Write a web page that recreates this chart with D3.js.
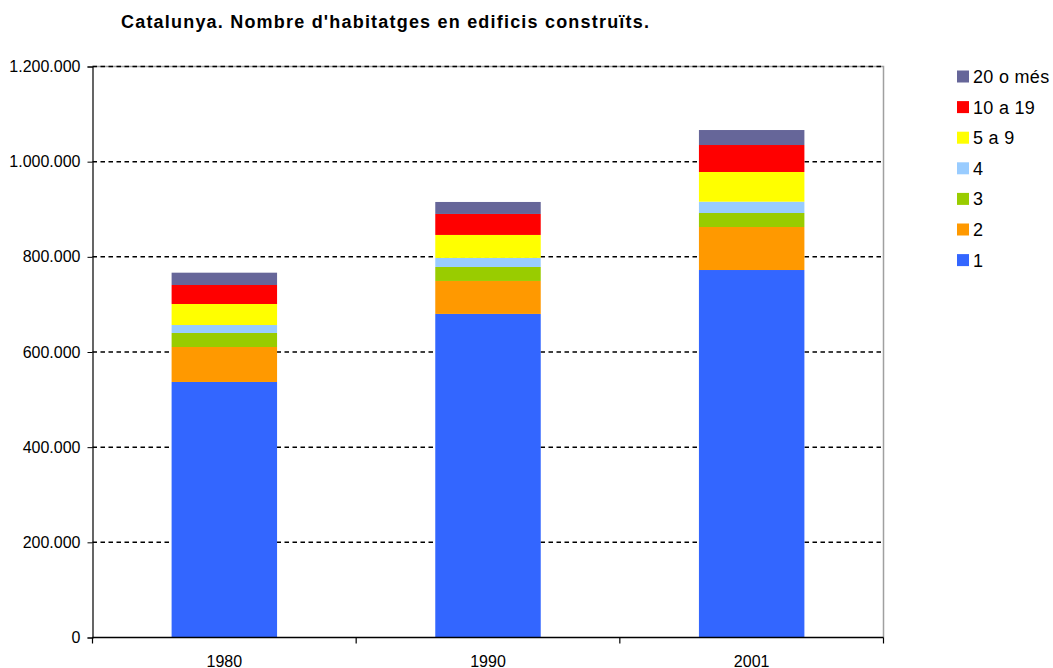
<!DOCTYPE html>
<html><head><meta charset="utf-8">
<script src="https://cdn.jsdelivr.net/npm/d3@7"></script>
<style>body{margin:0;background:#fff;} svg{display:block;font-family:"Liberation Sans",Arial,sans-serif;}</style>
</head><body><svg id="c" width="1053" height="668"></svg>
<script>
const years = ["1980","1990","2001"];
const seriesNames = ["1","2","3","4","5 a 9","10 a 19","20 o més"];
const s1 = [537000, 680000, 772300];
const s2 = [73500, 69300, 90400];
const s3 = [29500, 29400, 29400];
const s4 = [16700, 19000, 23800];
const s5a9 = [44200, 48300, 62400];
const s10a19 = [39900, 44100, 56700];
const s20mes = [25900, 25200, 31500];
const colors = ["#3366FF","#FF9900","#99CC00","#99CCFF","#FFFF00","#FF0000","#666699"];
const yTicks = [0,200000,400000,600000,800000,1000000,1200000];

const seriesVals = [s1,s2,s3,s4,s5a9,s10a19,s20mes];
const rows = years.map((y,i)=>{const r={year:y}; seriesNames.forEach((n,k)=>r[n]=seriesVals[k][i]); return r;});
const stack = d3.stack().keys(seriesNames)(rows);

const svg = d3.select("#c");
const L=92.5, R=883.5, T=66.5, B=637.5;
const x = d3.scaleBand().domain(years).range([L,R]);
const y = d3.scaleLinear().domain([0,1200000]).range([B,T]);
const fmt = v => d3.format(",")(v).replace(/,/g,".");

// plot border (gray top/right)
svg.append("path").attr("d",`M${L},${T}H${R}V${B}`).attr("fill","none").attr("stroke","#a0a0a0").attr("stroke-width",1.5);

// gridlines
svg.append("g").selectAll("line").data(yTicks.filter(d=>d>0)).join("line")
  .attr("x1",L).attr("x2",R).attr("y1",d=>y(d)).attr("y2",d=>y(d))
  .attr("stroke","#000").attr("stroke-width",1.5).attr("stroke-dasharray","4.5 3.5");

// bars
const bw = x.bandwidth()*0.4;
svg.append("g").selectAll("g").data(stack).join("g").attr("fill",(d,i)=>colors[i])
  .selectAll("rect").data(d=>d).join("rect")
  .attr("x",d=>x(d.data.year)+(x.bandwidth()-bw)/2).attr("width",bw)
  .attr("y",d=>y(d[1])).attr("height",d=>y(d[0])-y(d[1]));

// y axis
const ya = svg.append("g").attr("transform",`translate(${L},0)`)
  .call(d3.axisLeft(y).tickValues(yTicks).tickFormat(fmt).tickSize(5).tickPadding(7));
ya.select(".domain").attr("stroke","#000").attr("stroke-width",1.2);
ya.selectAll("text").attr("font-size","16px").attr("fill","#000").attr("font-family","Liberation Sans, Arial, sans-serif");

// x axis
const xa = svg.append("g").attr("transform",`translate(0,${B})`);
xa.append("line").attr("x1",L).attr("x2",R).attr("y1",0).attr("y2",0).attr("stroke","#000").attr("stroke-width",1.5);
const bounds = years.map(d=>x(d)).concat([R]);
xa.selectAll("line.t").data(bounds).join("line").attr("class","t")
  .attr("x1",d=>d).attr("x2",d=>d).attr("y1",0).attr("y2",6).attr("stroke","#000").attr("stroke-width",1.2);
xa.selectAll("text").data(years).join("text")
  .attr("x",d=>x(d)+x.bandwidth()/2).attr("y",29).attr("text-anchor","middle")
  .attr("font-size","16px").text(d=>d);

// title
svg.append("text").attr("x",121).attr("y",28).attr("font-size","18px").attr("font-weight","bold")
  .attr("letter-spacing","1.2px").text("Catalunya. Nombre d'habitatges en edificis construïts.");

// legend
const leg = svg.append("g");
const legOrder = seriesNames.map((n,i)=>({n,c:colors[i]})).reverse();
legOrder.forEach((d,i)=>{
  const cy = 76.5 + i*30.6;
  leg.append("rect").attr("x",957).attr("y",cy-6).attr("width",12).attr("height",12).attr("fill",d.c);
  leg.append("text").attr("x",973).attr("y",cy+6.5).attr("font-size","18px").attr("letter-spacing","0.3px").text(d.n);
});
</script></body></html>
